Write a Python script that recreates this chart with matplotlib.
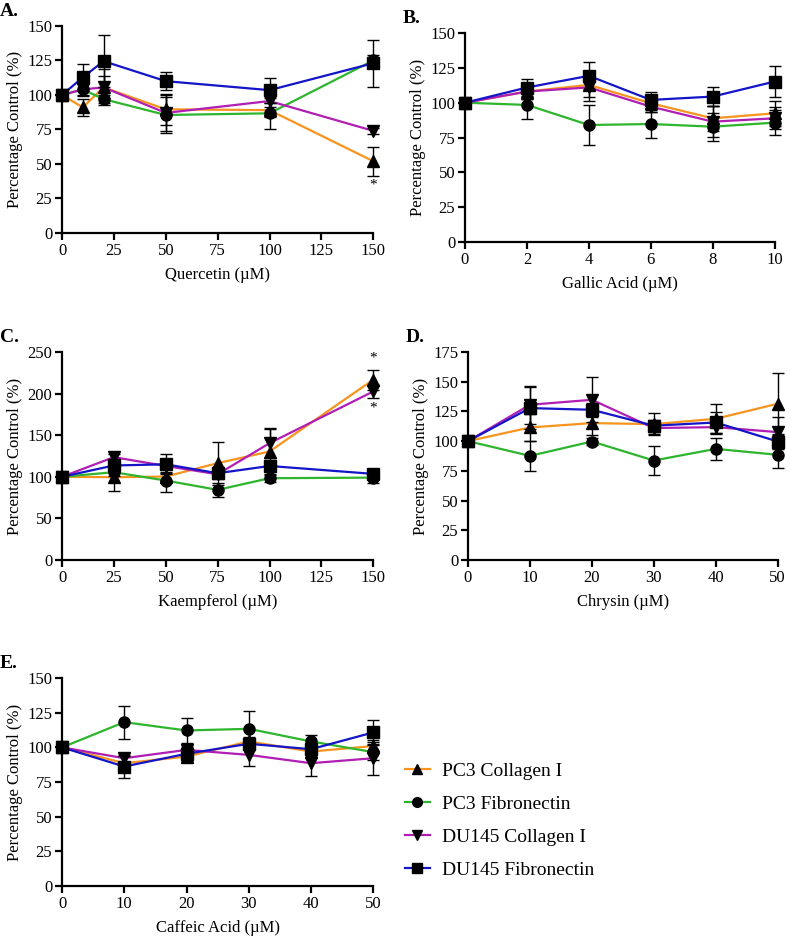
import matplotlib
matplotlib.use("Agg")
import matplotlib.pyplot as plt
from matplotlib.lines import Line2D

plt.rcParams['font.family'] = ['Liberation Serif', 'DejaVu Serif']

series_names = ["PC3 Collagen I", "PC3 Fibronectin", "DU145 Collagen I", "DU145 Fibronectin"]
colors = ["#F7941D", "#2DB52D", "#B01EB4", "#1414C8"]
markers = ["^", "o", "v", "s"]

# A. Quercetin
quer_x = [0, 10, 20, 50, 100, 150]
quer_pc3_col = [100, 91, 105.5, 89.6, 89, 52]
quer_pc3_col_err = [0, 6, 8, 11, 5, 10.5]
quer_pc3_fib = [100, 104, 97, 85.5, 86.7, 125]
quer_pc3_fib_err = [0, 5, 3, 13, 11, 4]
quer_du_col = [100, 104, 105.5, 87, 95.6, 74]
quer_du_col_err = [0, 4, 13, 13, 4, 2]
quer_du_fib = [100, 112.7, 124.5, 110, 103.5, 123]
quer_du_fib_err = [0, 10, 19, 6.5, 9, 17]

# B. Gallic acid
gall_x = [0, 2, 4, 6, 8, 10]
gall_pc3_col = [100, 108, 112.8, 99.6, 88.8, 92.4]
gall_pc3_col_err = [0, 5, 9, 6, 9, 9]
gall_pc3_fib = [100, 98.4, 84, 84.7, 82.8, 85.7]
gall_pc3_fib_err = [0, 10, 14, 10, 10, 9]
gall_du_col = [100, 108, 111, 97.2, 86.4, 88.8]
gall_du_col_err = [0, 5, 10, 4, 11, 8]
gall_du_fib = [100, 110.9, 119.3, 102, 104.4, 115.2]
gall_du_fib_err = [0, 6, 9.6, 6, 7, 11]

# C. Kaempferol
kaem_x = [0, 25, 50, 75, 100, 150]
kaem_pc3_col = [100, 99.5, 100.3, 116.4, 130.4, 216.7]
kaem_pc3_col_err = [0, 16, 5, 26, 27, 12]
kaem_pc3_fib = [100, 105.5, 95.5, 84.3, 98.3, 99]
kaem_pc3_fib_err = [0, 5, 14, 8, 4, 6]
kaem_du_col = [100, 123.6, 113, 103, 140.4, 202.6]
kaem_du_col_err = [0, 4, 8, 5, 18, 8]
kaem_du_fib = [100, 113.6, 115, 104.3, 113, 103.5]
kaem_du_fib_err = [0, 8, 12, 7, 6, 3]

# D. Chrysin
chry_x = [0, 10, 20, 30, 40, 50]
chry_pc3_col = [100, 111.5, 115.2, 114.3, 118.8, 131.5]
chry_pc3_col_err = [0, 11, 10, 9, 12.6, 26]
chry_pc3_fib = [100, 87.6, 99.7, 83.7, 93.5, 88.5]
chry_pc3_fib_err = [0, 12.6, 3, 12, 9, 11]
chry_du_col = [100, 130.6, 134.8, 111, 111.8, 107.6]
chry_du_col_err = [0, 16, 19, 5, 5, 13]
chry_du_fib = [100, 127.8, 126.4, 113, 115.7, 99.7]
chry_du_fib_err = [0, 18, 6, 5, 9, 6]

# E. Caffeic acid
caff_x = [0, 10, 20, 30, 40, 50]
caff_pc3_col = [100, 88.6, 93.4, 104.3, 97, 101]
caff_pc3_col_err = [0, 5, 4, 3, 4, 4]
caff_pc3_fib = [100, 118.2, 112.2, 113.4, 104.3, 96.6]
caff_pc3_fib_err = [0, 12, 8.7, 13, 5, 6]
caff_du_col = [100, 92.2, 98.2, 94.6, 88.6, 92.2]
caff_du_col_err = [0, 4, 4, 8, 9, 12]
caff_du_fib = [100, 86.2, 95.4, 102.6, 98.7, 110.8]
caff_du_fib_err = [0, 8.4, 5, 3, 4, 9]

panels = [
    dict(letter="A.", xlabel="Quercetin (\u00b5M)", x=quer_x,
         ys=[quer_pc3_col, quer_pc3_fib, quer_du_col, quer_du_fib],
         es=[quer_pc3_col_err, quer_pc3_fib_err, quer_du_col_err, quer_du_fib_err],
         xticks=[0, 25, 50, 75, 100, 125, 150], yticks=[0, 25, 50, 75, 100, 125, 150],
         rect=[0.0785, 0.7532, 0.394, 0.2193]),
    dict(letter="B.", xlabel="Gallic Acid (\u00b5M)", x=gall_x,
         ys=[gall_pc3_col, gall_pc3_fib, gall_du_col, gall_du_fib],
         es=[gall_pc3_col_err, gall_pc3_fib_err, gall_du_col_err, gall_du_fib_err],
         xticks=[0, 2, 4, 6, 8, 10], yticks=[0, 25, 50, 75, 100, 125, 150],
         rect=[0.5886, 0.7436, 0.392, 0.2214]),
    dict(letter="C.", xlabel="Kaempferol (\u00b5M)", x=kaem_x,
         ys=[kaem_pc3_col, kaem_pc3_fib, kaem_du_col, kaem_du_fib],
         es=[kaem_pc3_col_err, kaem_pc3_fib_err, kaem_du_col_err, kaem_du_fib_err],
         xticks=[0, 25, 50, 75, 100, 125, 150], yticks=[0, 50, 100, 150, 200, 250],
         rect=[0.0785, 0.4068, 0.394, 0.2203]),
    dict(letter="D.", xlabel="Chrysin (\u00b5M)", x=chry_x,
         ys=[chry_pc3_col, chry_pc3_fib, chry_du_col, chry_du_fib],
         es=[chry_pc3_col_err, chry_pc3_fib_err, chry_du_col_err, chry_du_fib_err],
         xticks=[0, 10, 20, 30, 40, 50], yticks=[0, 25, 50, 75, 100, 125, 150, 175],
         rect=[0.5924, 0.4068, 0.392, 0.2203]),
    dict(letter="E.", xlabel="Caffeic Acid (\u00b5M)", x=caff_x,
         ys=[caff_pc3_col, caff_pc3_fib, caff_du_col, caff_du_fib],
         es=[caff_pc3_col_err, caff_pc3_fib_err, caff_du_col_err, caff_du_fib_err],
         xticks=[0, 10, 20, 30, 40, 50], yticks=[0, 25, 50, 75, 100, 125, 150],
         rect=[0.0785, 0.0614, 0.394, 0.2203]),
]

fig = plt.figure(figsize=(7.9, 9.44), dpi=100)
axes = []
for p in panels:
    ax = fig.add_axes(p["rect"])
    axes.append(ax)
    for y, e, c, m in zip(p["ys"], p["es"], colors, markers):
        ax.plot(p["x"], y, color=c, lw=1.6, zorder=2, clip_on=False)
        ax.errorbar(p["x"], y, yerr=e, fmt="none", ecolor="black", elinewidth=1.0,
                    capsize=4, capthick=1.0, zorder=3, clip_on=False)
        ax.plot(p["x"], y, linestyle="none", marker=m, color="black", ms=8, zorder=4,
                clip_on=False)
    ax.set_xlim(p["xticks"][0], p["xticks"][-1])
    ax.set_ylim(p["yticks"][0], p["yticks"][-1])
    ax.set_xticks(p["xticks"])
    ax.set_yticks(p["yticks"])
    ax.spines["top"].set_visible(False)
    ax.spines["right"].set_visible(False)
    for s in ("left", "bottom"):
        ax.spines[s].set_linewidth(1.6)
    ax.tick_params(axis="both", direction="out", length=5, width=1.6, labelsize=12, pad=2)
    ax.set_xlabel(p["xlabel"], fontsize=12, labelpad=6)
    ax.set_ylabel("Percentage Control (%)", fontsize=12, labelpad=3)
    ax.text(-0.2, 1.07, p["letter"], transform=ax.transAxes, fontsize=14,
            fontweight="bold", ha="left", va="center")

# significance stars
axA, axC = axes[0], axes[2]
axA.text(quer_x[5], quer_pc3_col[5] - quer_pc3_col_err[5] - 7, "*", ha="center",
         va="center", fontsize=11)
axC.text(kaem_x[5], kaem_pc3_col[5] + kaem_pc3_col_err[5] + 14, "*", ha="center",
         va="center", fontsize=11)
axC.text(kaem_x[5], kaem_du_col[5] - kaem_du_col_err[5] - 12, "*", ha="center",
         va="center", fontsize=11)

handles = [Line2D([0], [0], color=c, lw=1.6, marker=m, markerfacecolor="black",
                  markeredgecolor="black", ms=7) for c, m in zip(colors, markers)]
fig.legend(handles, series_names, loc="upper left", bbox_to_anchor=(0.49, 0.2113),
           frameon=False, fontsize=14, handlelength=1.3, handletextpad=0.6,
           labelspacing=0.8)

fig.savefig("out.png", dpi=100)
